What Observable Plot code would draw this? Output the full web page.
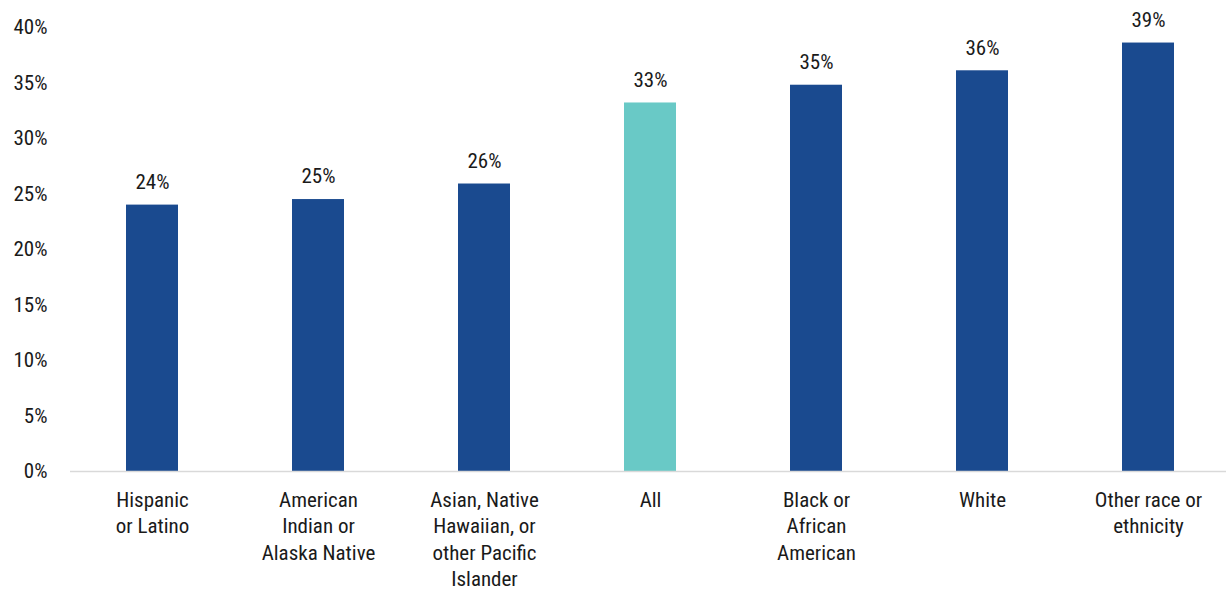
<!DOCTYPE html>
<html>
<head>
<meta charset="utf-8">
<script src="https://cdn.jsdelivr.net/npm/d3@7"></script>
<script src="https://cdn.jsdelivr.net/npm/@observablehq/plot@0.6"></script>
<style>
  html, body { margin: 0; padding: 0; background: #fff; }
  #chart svg { display: block; }
</style>
</head>
<body>
<div id="chart"></div>
<script>
const categories = [
  "Hispanic\nor Latino",
  "American\nIndian or\nAlaska Native",
  "Asian, Native\nHawaiian, or\nother Pacific\nIslander",
  "All",
  "Black or\nAfrican\nAmerican",
  "White",
  "Other race or\nethnicity"
];
const values = [24.0, 24.5, 25.9, 33.2, 34.8, 36.1, 38.6];
const valueLabels = ["24%", "25%", "26%", "33%", "35%", "36%", "39%"];
const highlight = [false, false, false, true, false, false, false];
const yTicks = [0, 5, 10, 15, 20, 25, 30, 35, 40];

const data = categories.map((c, i) => ({
  category: c, value: values[i], label: valueLabels[i], all: highlight[i]
}));

const font = "'Liberation Sans Narrow', 'Roboto Condensed', 'DejaVu Sans Condensed', Roboto, sans-serif";

const chart = Plot.plot({
  width: 1226,
  height: 592,
  marginTop: 27,
  marginBottom: 121,
  marginLeft: 70,
  marginRight: 0,
  style: { fontFamily: font, fontSize: "21px", color: "#1a1a1a", background: "#fff" },
  x: { domain: categories, paddingInner: 0.687, paddingOuter: 0.325, align: 0.52, label: null },
  y: { domain: [0, 40], label: null },
  marks: [
    Plot.barY(data, {
      x: "category", y: "value",
      fill: d => d.all ? "#69c9c6" : "#1a4a8f"
    }),
    Plot.ruleY([0], { stroke: "#d9d9d9", strokeWidth: 1.5 }),
    Plot.text(data, {
      x: "category", y: "value", text: "label",
      dy: -23, fontSize: 21, fill: "#1a1a1a"
    }),
    Plot.axisY({
      ticks: yTicks, tickSize: 0, tickPadding: 23,
      tickFormat: d => d + "%", fontSize: 21, fill: "#1a1a1a"
    }),
    Plot.axisX({
      tickSize: 0, tickPadding: 17, fontSize: 21, lineHeight: 1.25,
      fill: "#1a1a1a", textAnchor: "middle"
    })
  ]
});

document.getElementById("chart").appendChild(chart);
</script>
</body>
</html>
